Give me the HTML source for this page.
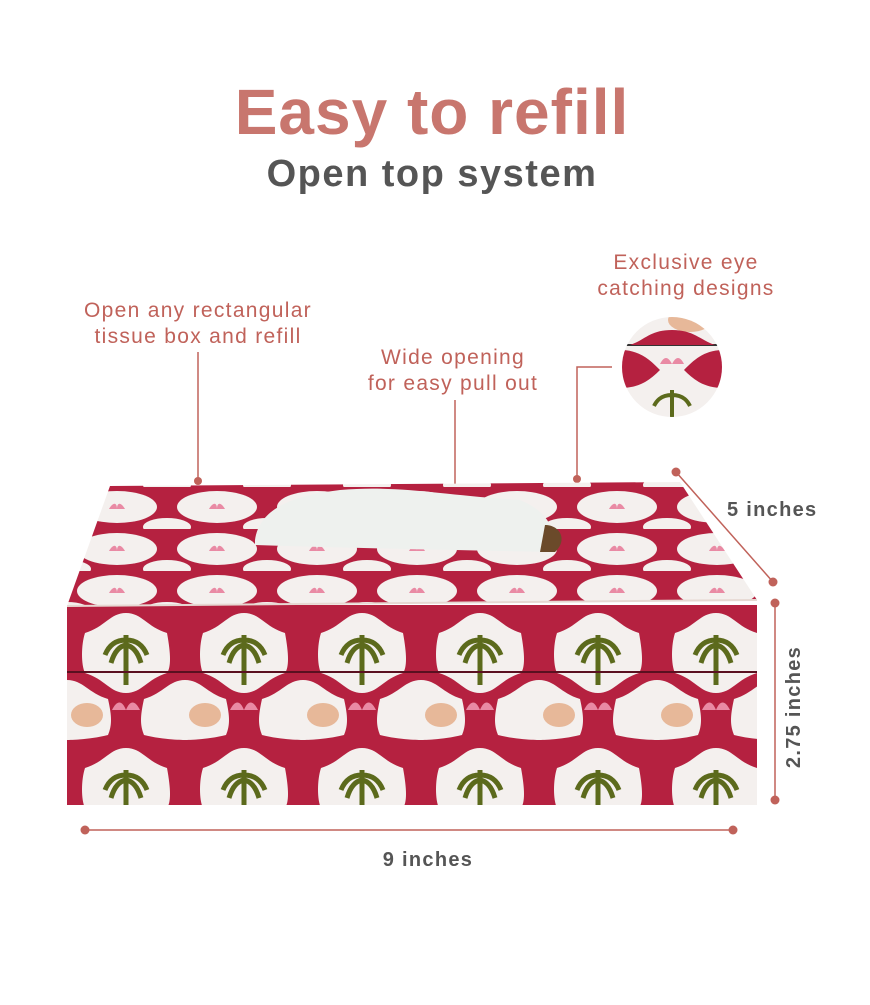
<!DOCTYPE html>
<html><head><meta charset="utf-8"><style>
html,body{margin:0;padding:0;background:#fff;}
body{width:870px;height:1000px;overflow:hidden;font-family:"Liberation Sans",sans-serif;}
</style></head><body>
<svg width="870" height="1000" viewBox="0 0 870 1000" xmlns="http://www.w3.org/2000/svg">
<defs>
<pattern id="pf" x="67" y="605" width="118" height="135" patternUnits="userSpaceOnUse">
<rect width="118" height="135" fill="#b52140"/>
<path d="M59 8 C75 8 80 22 100 28 C104 50 104 62 100 68 C80 74 75 88 59 88 C43 88 38 74 18 68 C14 60 14 40 18 28 C38 22 43 8 59 8Z" fill="#f4f0ee"/>
<path d="M0 75 C16 75 21 88 41 94 C45 112 45 120 41 130 C21 135 0 135 0 135Z M118 75 C102 75 97 88 77 94 C73 112 73 120 77 130 C97 135 118 135 118 135Z" fill="#f4f0ee"/>
<path d="M59 30 L59 80 M59 35 C45 35 40 45 38 50 M59 35 C73 35 78 45 80 50 M59 40 C48 42 45 55 44 58 M59 40 C70 42 73 55 74 58" stroke="#5c6a1c" stroke-width="5" fill="none"/>
<path d="M45 105 C50 95 55 95 59 105 C63 95 68 95 73 105Z" fill="#e98aa4"/>
<ellipse cx="20" cy="110" rx="16" ry="12" fill="#e7b899"/>
</pattern>
<pattern id="pt" x="67" y="487" width="100" height="42" patternUnits="userSpaceOnUse">
<rect width="100" height="42" fill="#b52140"/>
<ellipse cx="50" cy="20" rx="40" ry="16" fill="#f4f0ee"/>
<ellipse cx="0" cy="40" rx="24" ry="9" fill="#f4f0ee"/>
<ellipse cx="100" cy="40" rx="24" ry="9" fill="#f4f0ee"/>
<path d="M42 22 C46 15 50 15 50 22 C50 15 54 15 58 22Z" fill="#e98aa4"/>
</pattern>
<clipPath id="cc"><circle cx="672" cy="367" r="50"/></clipPath>
</defs>

<text x="432" y="134" text-anchor="middle" font-size="64" font-weight="bold" fill="#c8766e" letter-spacing="1">Easy to refill</text>
<text x="432" y="186" text-anchor="middle" font-size="38" font-weight="bold" fill="#555" letter-spacing="1.5">Open top system</text>

<g font-size="21" fill="#c0625a" text-anchor="middle" letter-spacing="1.3">
<text x="198" y="317">Open any rectangular</text>
<text x="198" y="343">tissue box and refill</text>
<text x="453" y="364">Wide opening</text>
<text x="453" y="390">for easy pull out</text>
<text x="686" y="269">Exclusive eye</text>
<text x="686" y="295">catching designs</text>
</g>
<g stroke="#c0625a" stroke-width="1.5" fill="none">
<line x1="198" y1="352" x2="198" y2="480"/>
<line x1="455" y1="400" x2="455" y2="490"/>
<polyline points="612,367 577,367 577,478"/>
</g>
<g fill="#c0625a"><circle cx="198" cy="481" r="4"/><circle cx="455" cy="491" r="4"/><circle cx="577" cy="479" r="4"/></g>

<g clip-path="url(#cc)">
<rect x="620" y="315" width="110" height="110" fill="#f4f0ee"/>
<ellipse cx="690" cy="320" rx="22" ry="12" fill="#e7b899"/>
<line x1="620" y1="345" x2="725" y2="345" stroke="#333" stroke-width="2"/>
<path d="M620 350 C640 350 650 360 660 370 C650 380 640 388 620 388Z M724 350 C704 350 694 360 684 370 C694 380 704 388 724 388Z" fill="#b52140"/>
<path d="M630 345 C645 340 650 330 672 330 C694 330 700 340 715 345Z" fill="#b52140"/>
<path d="M660 364 C664 356 668 356 672 364 C676 356 680 356 684 364Z" fill="#e98aa4"/>
<path d="M672 390 L672 418 M672 395 C660 395 656 402 654 406 M672 395 C684 395 688 402 690 406" stroke="#5c6a1c" stroke-width="4" fill="none"/>
</g>

<!-- box -->
<polygon points="110,486 680,482 757,600 67,606" fill="url(#pt)"/>
<path d="M255 540 C260 505 300 495 340 490 C400 485 440 495 520 500 C545 510 560 530 550 552 C450 550 350 548 255 545Z" fill="#eef1ee"/>
<path d="M545 525 C560 525 568 540 555 552 L540 552Z" fill="#6b4a2a"/>
<rect x="67" y="605" width="690" height="200" fill="url(#pf)"/>
<line x1="67" y1="672" x2="757" y2="672" stroke="#5a1020" stroke-width="2"/>
<line x1="67" y1="606" x2="757" y2="600" stroke="#e6d8d2" stroke-width="2"/>

<!-- dims -->
<g stroke="#c0625a" stroke-width="1.5">
<line x1="676" y1="472" x2="773" y2="582"/>
<line x1="775" y1="603" x2="775" y2="800"/>
<line x1="85" y1="830" x2="733" y2="830"/>
</g>
<g fill="#c0625a">
<circle cx="676" cy="472" r="4.5"/><circle cx="773" cy="582" r="4.5"/>
<circle cx="775" cy="603" r="4.5"/><circle cx="775" cy="800" r="4.5"/>
<circle cx="85" cy="830" r="4.5"/><circle cx="733" cy="830" r="4.5"/>
</g>
<g font-size="20" font-weight="bold" fill="#555" letter-spacing="1.3">
<text x="727" y="516">5 inches</text>
<text x="428" y="866" text-anchor="middle">9 inches</text>
<text transform="translate(800,707) rotate(-90)" text-anchor="middle">2.75 inches</text>
</g>
</svg>
</body></html>
